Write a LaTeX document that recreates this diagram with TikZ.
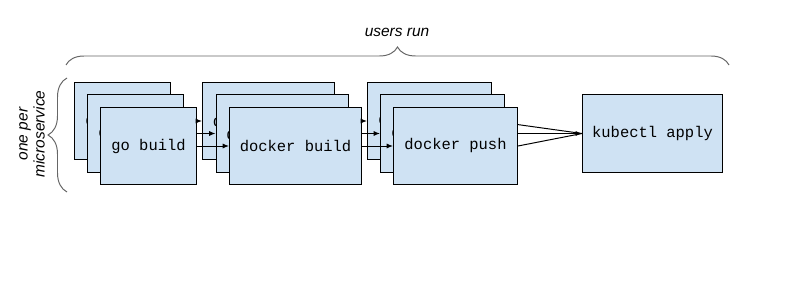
\documentclass[tikz,border=0pt]{standalone}
\usepackage{fontspec}
\setmainfont{Liberation Sans}
\setmonofont{Liberation Mono}
\usetikzlibrary{arrows.meta,decorations.pathreplacing,backgrounds}

\tikzset{
  stage/.style={draw=black, fill=colBox, line width=0.7pt, inner sep=0pt,
    anchor=north west, minimum height=1.925cm,
    font=\ttfamily\fontsize{11}{13}\selectfont},
  feed/.style={line width=0.7pt, -{Latex[length=4.5pt,width=3.6pt]}},
  plainfeed/.style={line width=0.7pt},
  bracket/.style={draw=black!60, line width=0.7pt, decorate,
    decoration={brace, amplitude=#1}},
  caption/.style={font=\itshape\fontsize{11}{12}\selectfont}
}

\begin{document}
\begin{tikzpicture}[x=0.025cm, y=-0.025cm]
            \definecolor{colBox}{HTML}{CFE2F3}
            \useasboundingbox (0,0) rectangle (800,281);

            % Stacks of stages, one box per microservice
            \foreach \i in {1,2,3} {
                \node[stage, minimum width=2.4cm] (go\i) at ({74+13*(\i-1)}, {82+12.5*(\i-1)}) {go build};
            }
            \foreach \i in {1,2,3} {
                \node[stage, minimum width=3.3cm] (docker\i) at ({202+13.5*(\i-1)}, {82+12.5*(\i-1)}) {docker build};
            }
            \foreach \i in {1,2,3} {
                \node[stage, minimum width=3.1cm] (push\i) at ({367+13*(\i-1)}, {82+12.5*(\i-1)}) {docker push};
            }
            \node[stage, minimum width=3.5cm, minimum height=1.95cm] (apply) at (582, 94) {kubectl apply};

            % Arrows from stack to stack
            \foreach \i in {1,2,3} {
                \draw[feed] (go3.east |- go\i.east) -- (docker\i.west);
                \draw[feed] (docker3.east |- docker\i.east) -- (push\i.west);
            }
            \begin{scope}[on background layer]
                \draw[plainfeed] (push1.east) -- (apply.west);
                \draw[feed] (push2.east) -- (apply.west);
                \draw[plainfeed] (push3.east) -- (apply.west);
            \end{scope}

            % Braces
            \coordinate (runL) at (66, 65);
            \coordinate (runR) at (729, 65);
            \draw[bracket=0.45cm] (runL) -- (runR);
            \node[caption] (users) at (397, 32) {users run};

            \coordinate (perB) at (67, 192);
            \coordinate (perT) at (67, 78);
            \draw[bracket=0.475cm] (perB) -- (perT);
            \node[caption, rotate=90, align=center] (per) at (32, 134) {one per\\microservice};
\end{tikzpicture}
\end{document}
